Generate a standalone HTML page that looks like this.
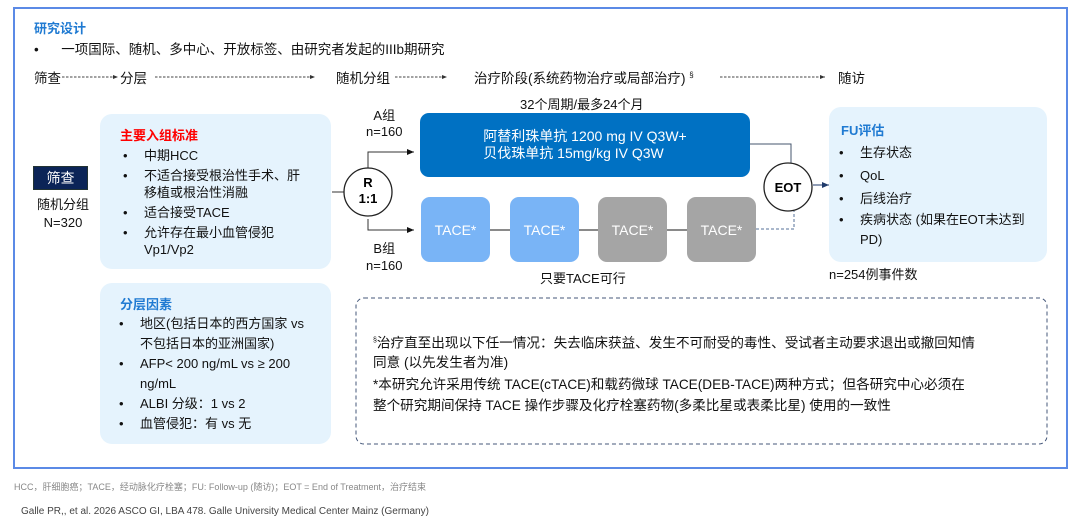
<!DOCTYPE html>
<html><head><meta charset="utf-8"><style>
*{margin:0;padding:0;box-sizing:border-box}
body{width:1080px;height:528px;background:#fff;position:relative;overflow:hidden;font-family:"Liberation Sans","Noto Sans CJK SC",sans-serif;color:#111;font-size:13px}
.a{position:absolute;white-space:nowrap}
.box{position:absolute;border-radius:12px;background:#e5f3fd}
ul{list-style:none}
li{position:relative;padding-left:24px;line-height:19px}
li:before{content:"•";position:absolute;left:3px}
.t{position:absolute;border-radius:9px;color:#fff;font-size:14px;display:flex;align-items:center;justify-content:center}
.f{position:absolute;top:67px;font-size:13.5px;white-space:nowrap}
</style></head><body>
<div class="a" style="left:13px;top:7px;width:1055px;height:462px;border:2px solid #5b8ae6"></div>
<div class="a" style="left:34px;top:18px;color:#1f7ad2;font-weight:bold;font-size:13px">研究设计</div>
<div class="a" style="left:34px;top:38px;font-size:13.5px">•&nbsp;&nbsp;&nbsp;&nbsp;&nbsp;&nbsp;一项国际、随机、多中心、开放标签、由研究者发起的IIIb期研究</div>
<div class="f" style="left:34px">筛查</div>
<div class="f" style="left:120px">分层</div>
<div class="f" style="left:336px">随机分组</div>
<div class="f" style="left:474px">治疗阶段(系统药物治疗或局部治疗) <sup style="font-size:8px">§</sup></div>
<div class="f" style="left:838px">随访</div>

<div class="a" style="left:33px;top:166px;width:55px;height:24px;background:#0b2457;border:1px solid #233;color:#fff;font-size:14px;text-align:center;line-height:22px">筛查</div>
<div class="a" style="left:30px;top:196px;width:66px;text-align:center;font-size:13px;line-height:18px">随机分组<br>N=320</div>

<div class="box" style="left:100px;top:114px;width:231px;height:155px;padding:11px 0 0 20px">
<div style="color:#f00;font-weight:bold;font-size:13px;margin-bottom:3px">主要入组标准</div>
<ul style="font-size:13px;line-height:17px">
<li style="line-height:17px;margin-bottom:3px">中期HCC</li>
<li style="line-height:17px;margin-bottom:3px">不适合接受根治性手术、肝<br>移植或根治性消融</li>
<li style="line-height:17px;margin-bottom:3px">适合接受TACE</li>
<li style="line-height:17px">允许存在最小血管侵犯<br>Vp1/Vp2</li></ul></div>

<div class="box" style="left:100px;top:283px;width:231px;height:161px;padding:11px 0 0 20px">
<div style="color:#1f7ad2;font-weight:bold;font-size:13px;margin-bottom:1px">分层因素</div>
<ul style="font-size:13px;margin-left:-4px">
<li style="line-height:20px">地区(包括日本的西方国家 vs<br>不包括日本的亚洲国家)</li>
<li style="line-height:20px">AFP&lt; 200 ng/mL vs ≥ 200<br>ng/mL</li>
<li style="line-height:20px">ALBI 分级：1 vs 2</li>
<li style="line-height:20px">血管侵犯：有 vs 无</li></ul></div>

<svg class="a" style="left:0;top:0" width="1080" height="528">
<defs><marker id="m" markerWidth="8" markerHeight="8" refX="7" refY="4" orient="auto" markerUnits="userSpaceOnUse"><path d="M0,1 L7,4 L0,7z" fill="#111"/></marker>
<marker id="m2" markerWidth="8" markerHeight="8" refX="7" refY="4" orient="auto" markerUnits="userSpaceOnUse"><path d="M0,1 L7,4 L0,7z" fill="#1f3a6b"/></marker>
<marker id="ms" markerWidth="6" markerHeight="6" refX="5" refY="3" orient="auto" markerUnits="userSpaceOnUse"><path d="M0,1 L5,3 L0,5z" fill="#333"/></marker></defs>
<g stroke="#444" stroke-width="0.9" stroke-dasharray="2.5,1.5" marker-end="url(#ms)">
<line x1="62" y1="77" x2="118" y2="77"/>
<line x1="155" y1="77" x2="315" y2="77"/>
<line x1="395" y1="77" x2="447" y2="77"/>
<line x1="720" y1="77" x2="825" y2="77"/>
</g>
<line x1="332" y1="192" x2="344" y2="192" stroke="#333"/>
<polyline points="368,169 368,152 414,152" fill="none" stroke="#333" marker-end="url(#m)"/>
<polyline points="368,219 368,230 414,230" fill="none" stroke="#333" marker-end="url(#m)"/>
<circle cx="368" cy="192" r="24" fill="#fff" stroke="#222" stroke-width="1.3"/>
<text x="368" y="187" text-anchor="middle" font-weight="bold" font-size="13" font-family="Liberation Sans">R</text>
<text x="368" y="203" text-anchor="middle" font-weight="bold" font-size="13" font-family="Liberation Sans">1:1</text>
<line x1="490" y1="230" x2="510" y2="230" stroke="#444" stroke-width="1.2"/>
<line x1="579" y1="230" x2="598" y2="230" stroke="#444" stroke-width="1.2"/>
<line x1="667" y1="230" x2="687" y2="230" stroke="#444" stroke-width="1.2"/>
<polyline points="750,144 791,144 791,164" fill="none" stroke="#44566e"/>
<polyline points="756,229 794,229 794,211" fill="none" stroke="#55709a" stroke-dasharray="3,2"/>
<circle cx="788" cy="187" r="24" fill="#fff" stroke="#222" stroke-width="1.3"/>
<text x="788" y="192" text-anchor="middle" font-weight="bold" font-size="13" font-family="Liberation Sans">EOT</text>
<line x1="813" y1="185" x2="829" y2="185" stroke="#1f3a6b" marker-end="url(#m2)"/>
<rect x="356" y="298" width="691" height="146" rx="8" fill="none" stroke="#44577a" stroke-dasharray="4,3"/>
</svg>

<div class="a" style="left:366px;top:108px;font-size:13px;line-height:16px;text-align:center">A组<br>n=160</div>
<div class="a" style="left:366px;top:240px;font-size:13px;line-height:17px;text-align:center">B组<br>n=160</div>
<div class="a" style="left:520px;top:94px;font-size:13px">32个周期/最多24个月</div>
<div class="t" style="left:420px;top:113px;width:330px;height:64px;background:#0071c3;flex-direction:column;font-size:14px;line-height:17px">阿替利珠单抗 1200 mg IV Q3W+<br>贝伐珠单抗 15mg/kg IV Q3W</div>
<div class="t" style="left:421px;top:197px;width:69px;height:65px;background:#79b4f6">TACE*</div>
<div class="t" style="left:510px;top:197px;width:69px;height:65px;background:#79b4f6">TACE*</div>
<div class="t" style="left:598px;top:197px;width:69px;height:65px;background:#a5a5a5">TACE*</div>
<div class="t" style="left:687px;top:197px;width:69px;height:65px;background:#a5a5a5">TACE*</div>
<div class="a" style="left:540px;top:268px;font-size:13px">只要TACE可行</div>

<div class="box" style="left:829px;top:107px;width:218px;height:155px;padding:13px 0 0 12px">
<div style="color:#1f7ad2;font-weight:bold;font-size:13px;margin-bottom:2px">FU评估</div>
<ul style="font-size:13px;margin-left:-5px">
<li style="line-height:23px">生存状态</li>
<li style="line-height:23px">QoL</li>
<li style="line-height:23px">后线治疗</li>
<li style="line-height:20px">疾病状态 (如果在EOT未达到<br>PD)</li></ul></div>
<div class="a" style="left:829px;top:264px;font-size:13px">n=254例事件数</div>

<div class="a" style="left:373px;top:331px;font-size:13.6px;line-height:19px"><sup style="font-size:7px">§</sup>治疗直至出现以下任一情况：失去临床获益、发生不可耐受的毒性、受试者主动要求退出或撤回知情<br>同意 (以先发生者为准)</div>
<div class="a" style="left:373px;top:374px;font-size:13.6px;line-height:21px">*本研究允许采用传统 TACE(cTACE)和载药微球 TACE(DEB-TACE)两种方式；但各研究中心必须在<br>整个研究期间保持 TACE 操作步骤及化疗栓塞药物(多柔比星或表柔比星) 使用的一致性</div>

<div class="a" style="left:14px;top:480px;font-size:9px;color:#888">HCC，肝细胞癌；TACE，经动脉化疗栓塞；FU: Follow-up (随访)；EOT = End of Treatment，治疗结束</div>
<div class="a" style="left:21px;top:506px;font-size:10px;color:#444">Galle PR,, et al. 2026 ASCO GI, LBA 478. Galle University Medical Center Mainz (Germany)</div>
</body></html>
